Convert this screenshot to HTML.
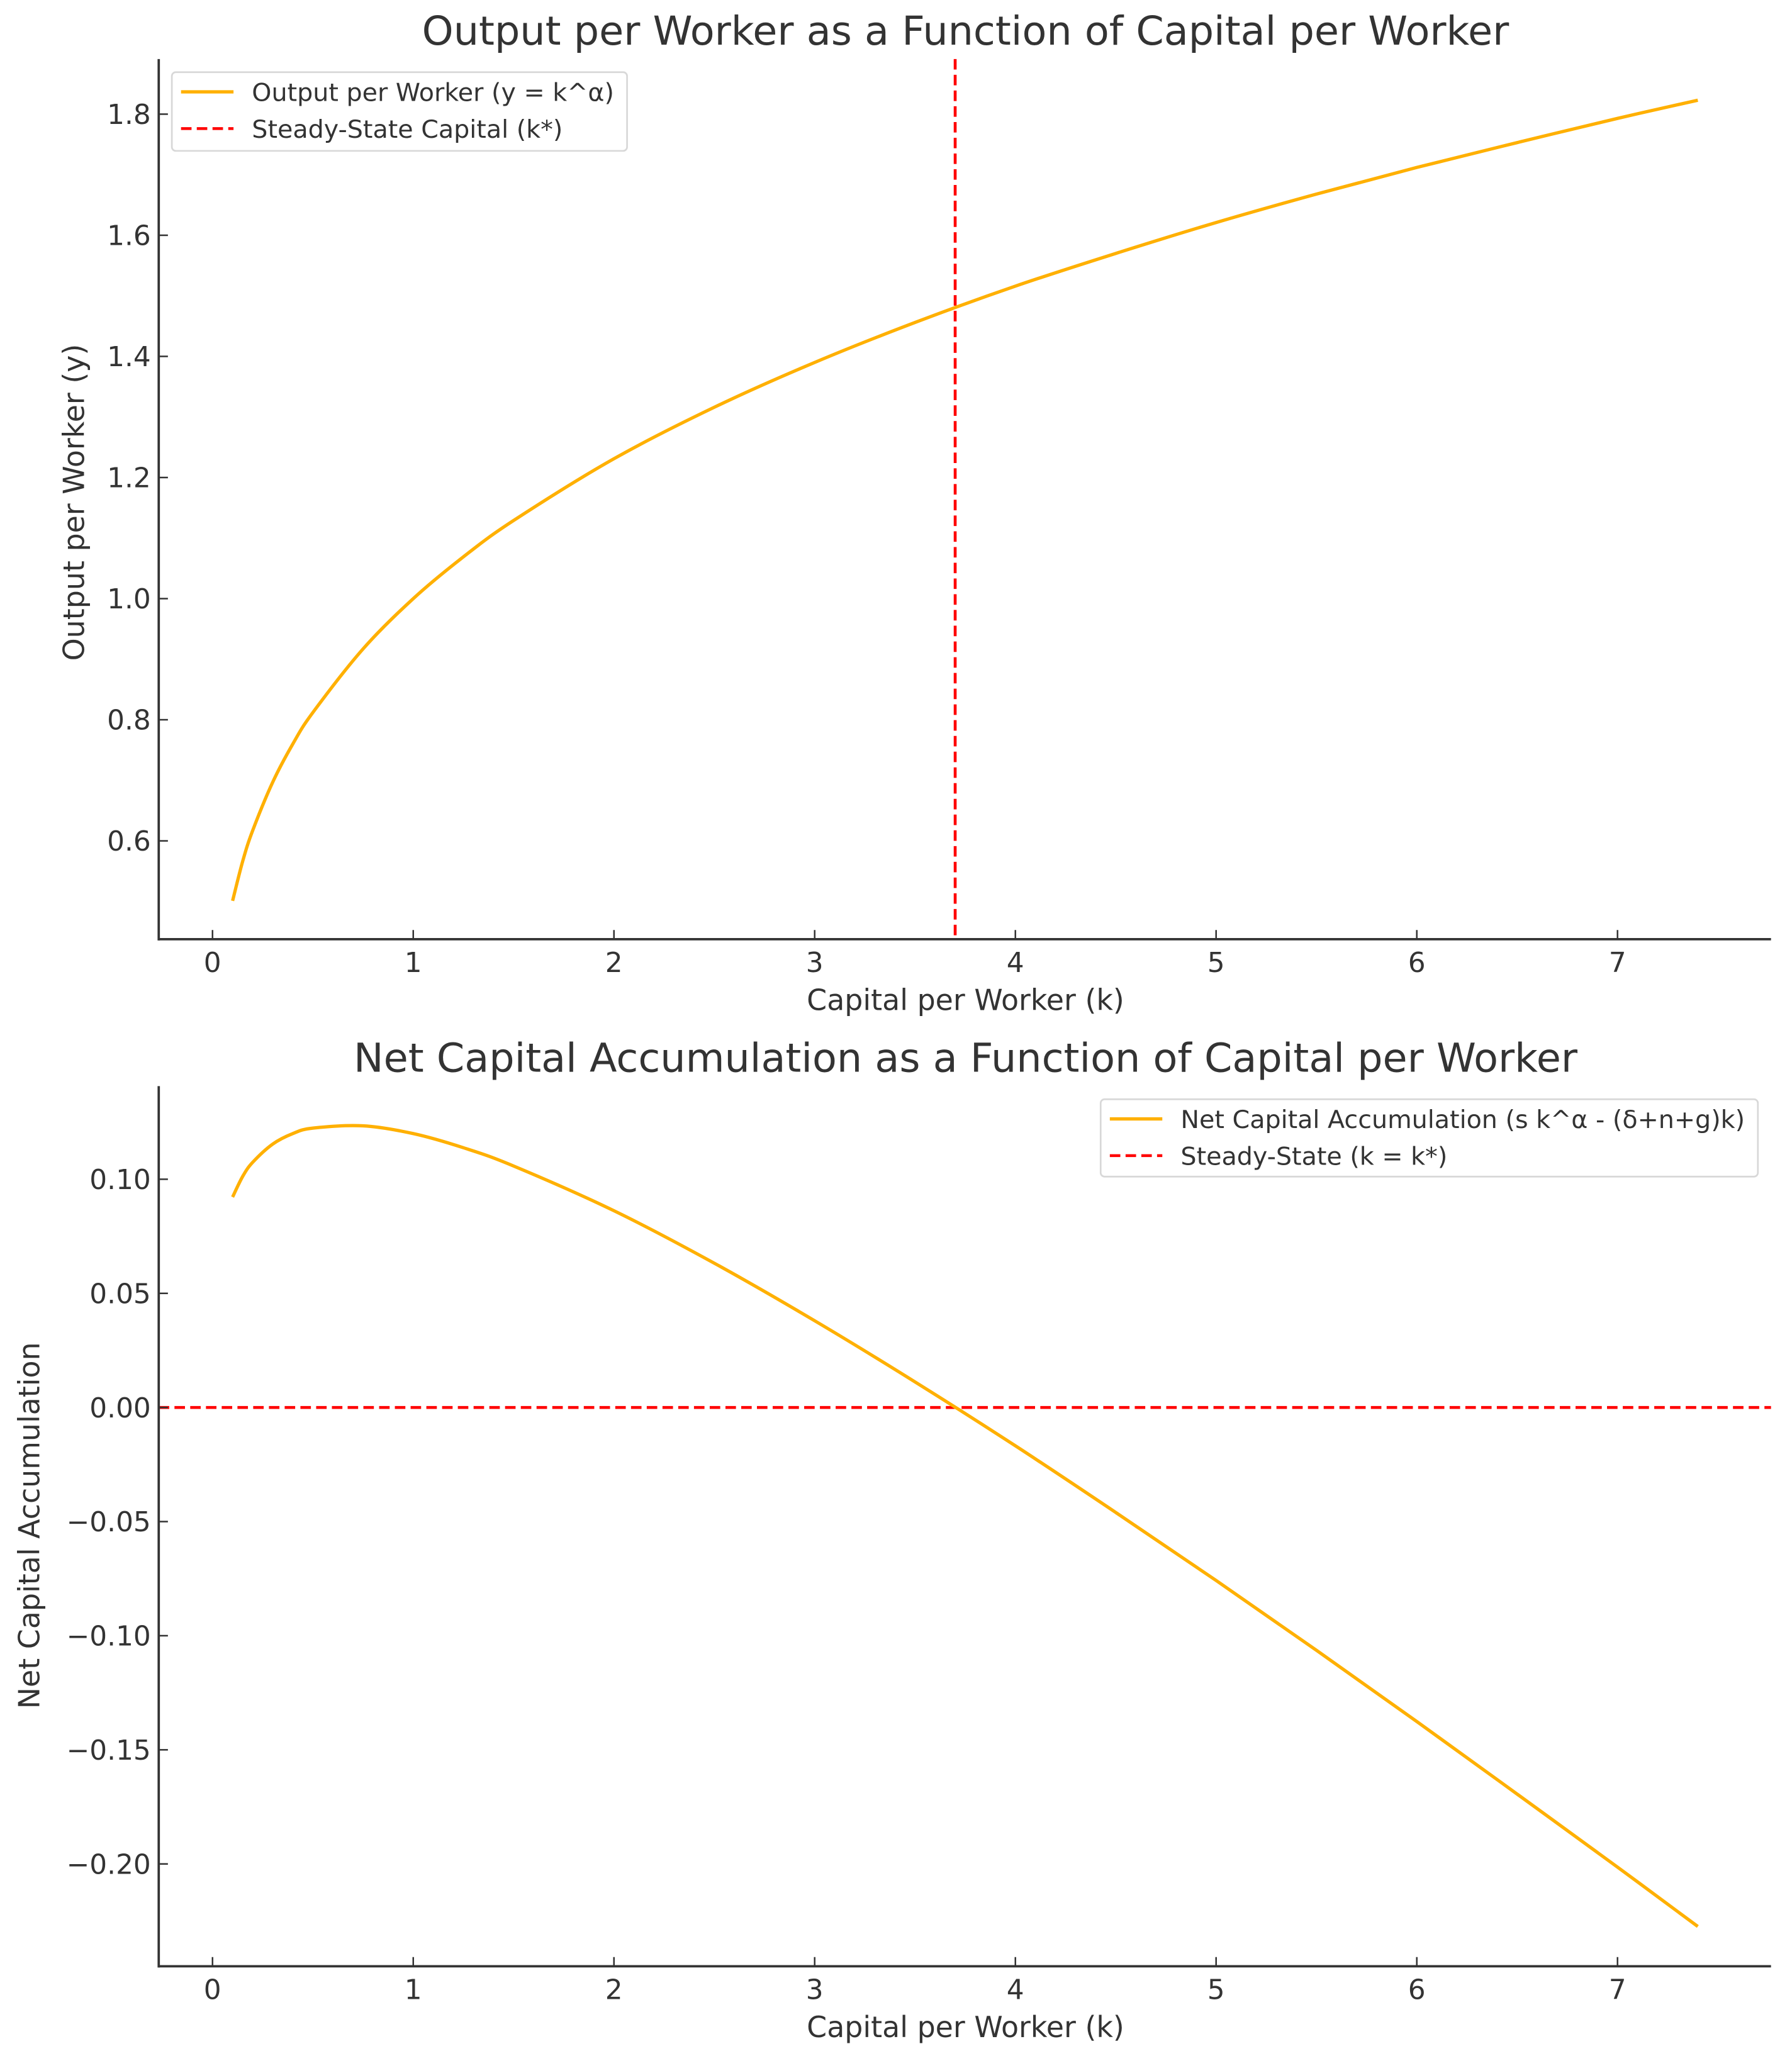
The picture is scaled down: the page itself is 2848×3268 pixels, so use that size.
<!DOCTYPE html>
<html><head><meta charset="utf-8"><style>
html,body{margin:0;padding:0;background:#fff}
svg{display:block}
text{font-family:"DejaVu Sans","Liberation Sans",sans-serif;fill:#333}
</style></head><body>
<svg id="chart" width="2848" height="3268" viewBox="0 0 1366 1567.4" xmlns="http://www.w3.org/2000/svg">
<g id="top"></g>
<g id="bot"></g>
</svg>
<script>
const kValues = [0.1,0.15,0.2,0.3,0.4,0.5,0.75,1,1.25,1.5,2,2.5,3,3.5,4,4.5,5,5.5,6,6.5,7,7.4];
const outputValues = [0.501,0.566,0.617,0.697,0.760,0.812,0.917,1.0,1.069,1.129,1.231,1.316,1.390,1.456,1.516,1.570,1.621,1.668,1.712,1.753,1.793,1.823];
const netValues = [0.0922,0.1012,0.1074,0.1154,0.1200,0.1224,0.1234,0.12,0.1138,0.1058,0.0862,0.0632,0.038,0.0112,-0.0168,-0.046,-0.0758,-0.1064,-0.1376,-0.1694,-0.2014,-0.2274];
const xTicks = [0,1,2,3,4,5,6,7];
const topYTicks = [0.6,0.8,1.0,1.2,1.4,1.6,1.8];
const topYLabels = ["0.6","0.8","1.0","1.2","1.4","1.6","1.8"];
const botYTicks = [0.10,0.05,0.00,-0.05,-0.10,-0.15,-0.20];
const botYLabels = ["0.10","0.05","0.00","\u22120.05","\u22120.10","\u22120.15","\u22120.20"];
const steadyK = [3.7];
const steadyNet = [0];

const NS="http://www.w3.org/2000/svg";
function mk(parent,tag,attrs,text){const e=document.createElementNS(NS,tag);for(const k in attrs)e.setAttribute(k,attrs[k]);if(text!==undefined)e.textContent=text;parent.appendChild(e);return e;}

function smoothPath(pts){
  let d='M'+pts[0][0].toFixed(2)+','+pts[0][1].toFixed(2);
  for(let i=0;i<pts.length-1;i++){
    const p0=pts[Math.max(0,i-1)],p1=pts[i],p2=pts[i+1],p3=pts[Math.min(pts.length-1,i+2)];
    const c1x=p1[0]+(p2[0]-p0[0])/6,c1y=p1[1]+(p2[1]-p0[1])/6;
    const c2x=p2[0]-(p3[0]-p1[0])/6,c2y=p2[1]-(p3[1]-p1[1])/6;
    d+=' C'+c1x.toFixed(2)+','+c1y.toFixed(2)+' '+c2x.toFixed(2)+','+c2y.toFixed(2)+' '+p2[0].toFixed(2)+','+p2[1].toFixed(2);
  }
  return d;
}

function panel(g,cfg){
  const L=121,R=1350,T=cfg.top,B=cfg.bottom;
  const xs=v=>162+(v-0)*153;
  const ys=v=>cfg.y0px+(v-cfg.y0)*cfg.pxPer;
  let t=mk(g,'text',{x:736,y:T-11,'font-size':30.5,'text-anchor':'middle'},cfg.title);
  
  
  if(cfg.vline!==undefined){
    let l=mk(g,'line',{x1:xs(cfg.vline),x2:xs(cfg.vline),y1:T,y2:B,stroke:'#ff0000','stroke-width':2.2,'stroke-dasharray':'8,4'});
    
    
  }
  if(cfg.hline!==undefined){
    let l=mk(g,'line',{x1:L,x2:R,y1:ys(cfg.hline),y2:ys(cfg.hline),stroke:'#ff0000','stroke-width':2.2,'stroke-dasharray':'8,4'});
    
    
  }
  const pts=kValues.map((k,i)=>[xs(k),ys(cfg.vals[i])]);
  let p=mk(g,'path',{d:smoothPath(pts),fill:'none',stroke:'#ffb000','stroke-width':2.5,'stroke-linejoin':'round'});
  
  
  let s1=mk(g,'line',{x1:L,x2:L,y1:T,y2:B+1,stroke:'#333','stroke-width':1.8});
  
  
  let s2=mk(g,'line',{x1:L,x2:R,y1:B,y2:B,stroke:'#333','stroke-width':1.8});
  
  
  xTicks.forEach(v=>{
    mk(g,'line',{x1:xs(v),x2:xs(v),y1:B,y2:B-7,stroke:'#333','stroke-width':1.2});
    let tx=mk(g,'text',{x:xs(v),y:B+25,'font-size':21,'text-anchor':'middle'},String(v));
    
    
  });
  cfg.yt.forEach((v,i)=>{
    mk(g,'line',{x1:L,x2:L+7,y1:ys(v),y2:ys(v),stroke:'#333','stroke-width':1.2});
    let ty=mk(g,'text',{x:L-6,y:ys(v)+7.5,'font-size':21,'text-anchor':'end'},cfg.yl[i]);
    
    
  });
  let xl=mk(g,'text',{x:736,y:B+54,'font-size':22,'text-anchor':'middle'},'Capital per Worker (k)');
  
  
  let yl=mk(g,'text',{x:0,y:0,'font-size':22,'text-anchor':'middle',transform:'translate('+cfg.ylx+','+cfg.yly+') rotate(-90)'},cfg.ylabel);
  
  
  const lg=cfg.legend;
  let lgG=mk(g,'g',{});
  
  
  mk(lgG,'rect',{x:lg.x,y:lg.y,width:lg.w,height:lg.h,rx:3,fill:'#fff',stroke:'#d8d8d8','stroke-width':1.3});
  let e1=mk(lgG,'g',{});
  
  
  mk(e1,'line',{x1:lg.x+7,x2:lg.x+47,y1:lg.y+15,y2:lg.y+15,stroke:'#ffb000','stroke-width':2.5});
  mk(e1,'text',{x:lg.x+61,y:lg.y+22,'font-size':19},lg.t1);
  let e2=mk(lgG,'g',{});
  
  
  mk(e2,'line',{x1:lg.x+7,x2:lg.x+47,y1:lg.y+43,y2:lg.y+43,stroke:'#ff0000','stroke-width':2.2,'stroke-dasharray':'8,4'});
  mk(e2,'text',{x:lg.x+61,y:lg.y+50,'font-size':19},lg.t2);
}

panel(document.getElementById('top'),{
  top:45,bottom:716,y0:1.8,y0px:87,pxPer:-461.7,vals:outputValues,yt:topYTicks,yl:topYLabels,
  title:'Output per Worker as a Function of Capital per Worker',vline:steadyK[0],
  ylabel:'Output per Worker (y)',ylx:64,yly:383,
  legend:{x:131,y:55,w:347,h:60,t1:'Output per Worker (y = k^\u03b1)',t2:'Steady-State Capital (k*)'}
});
panel(document.getElementById('bot'),{
  top:828,bottom:1499,y0:0,y0px:1073,pxPer:-1740,vals:netValues,yt:botYTicks,yl:botYLabels,
  title:'Net Capital Accumulation as a Function of Capital per Worker',hline:steadyNet[0],
  ylabel:'Net Capital Accumulation',ylx:30,yly:1163,
  legend:{x:839,y:838,w:501,h:59,t1:'Net Capital Accumulation (s k^\u03b1 - (\u03b4+n+g)k)',t2:'Steady-State (k = k*)'}
});
</script>
</body></html>
